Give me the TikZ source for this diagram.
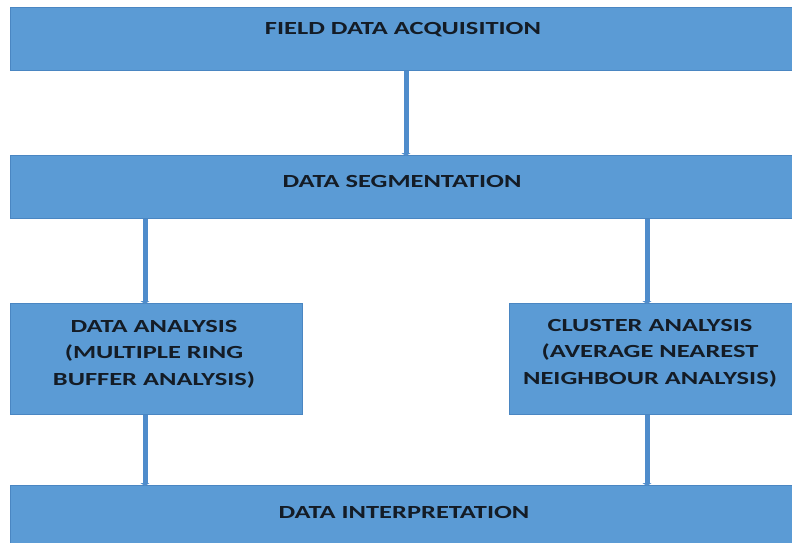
\documentclass[tikz,border=0pt]{standalone}
\usepackage{fontspec}
\setmainfont{Carlito}[FakeStretch=1.43]
\usetikzlibrary{arrows.meta}
\definecolor{boxfill}{HTML}{5B9BD5}
\definecolor{boxline}{HTML}{4A86C2}
\definecolor{flowline}{HTML}{4F8CCB}
\definecolor{labeltext}{HTML}{141C26}
\tikzset{
  x=1pt, y=-1pt,
  stagebox/.style={draw=boxline, line width=1.2pt, fill=boxfill, anchor=north west, inner sep=0pt},
  stagelabel/.style={text=labeltext, font=\fontsize{18.5}{26.5}\selectfont\bfseries, align=center, inner sep=0pt},
  flow/.style={draw=flowline, line width=5pt, -{Triangle[width=9pt,length=3pt]}, shorten >=-1pt}
}
\begin{document}
\begin{tikzpicture}
\useasboundingbox (0,0) rectangle (792,542);
\fill[white] (0,0) rectangle (792,542);
% full-width stages
\node[stagebox, minimum width=790pt, minimum height=63pt] (acq) at (10,7) {};
\node[stagelabel] (acqtext) at (403,30) {FIELD DATA ACQUISITION};
\node[stagebox, minimum width=790pt, minimum height=63pt] (seg) at (10,155) {};
\node[stagelabel] (segtext) at (402,181) {DATA SEGMENTATION};
\node[stagebox, minimum width=790pt, minimum height=70pt] (interp) at (10,485) {};
\node[stagelabel] (interptext) at (404,512) {DATA INTERPRETATION};
% the two analysis branches
\node[stagebox, minimum width=292pt, minimum height=111pt] (ring) at (10,303) {};
\node[stagelabel] (ringtext) at (154,354)
  {DATA ANALYSIS\\(MULTIPLE RING\\BUFFER ANALYSIS)};
\node[stagebox, minimum width=292pt, minimum height=111pt] (cluster) at (509,303) {};
\node[stagelabel] (clustertext) at (650,353)
  {CLUSTER ANALYSIS\\(AVERAGE NEAREST\\NEIGHBOUR ANALYSIS)};
% connectors
\draw[flow] (acq.south -| 406,0) -- (seg.north -| 406,0);
\draw[flow] (seg.south -| 145,0) -- (ring.north -| 145,0);
\draw[flow] (seg.south -| 647,0) -- (cluster.north -| 647,0);
\draw[flow] (ring.south -| 145,0) -- (interp.north -| 145,0);
\draw[flow] (cluster.south -| 647,0) -- (interp.north -| 647,0);
\end{tikzpicture}
\end{document}
